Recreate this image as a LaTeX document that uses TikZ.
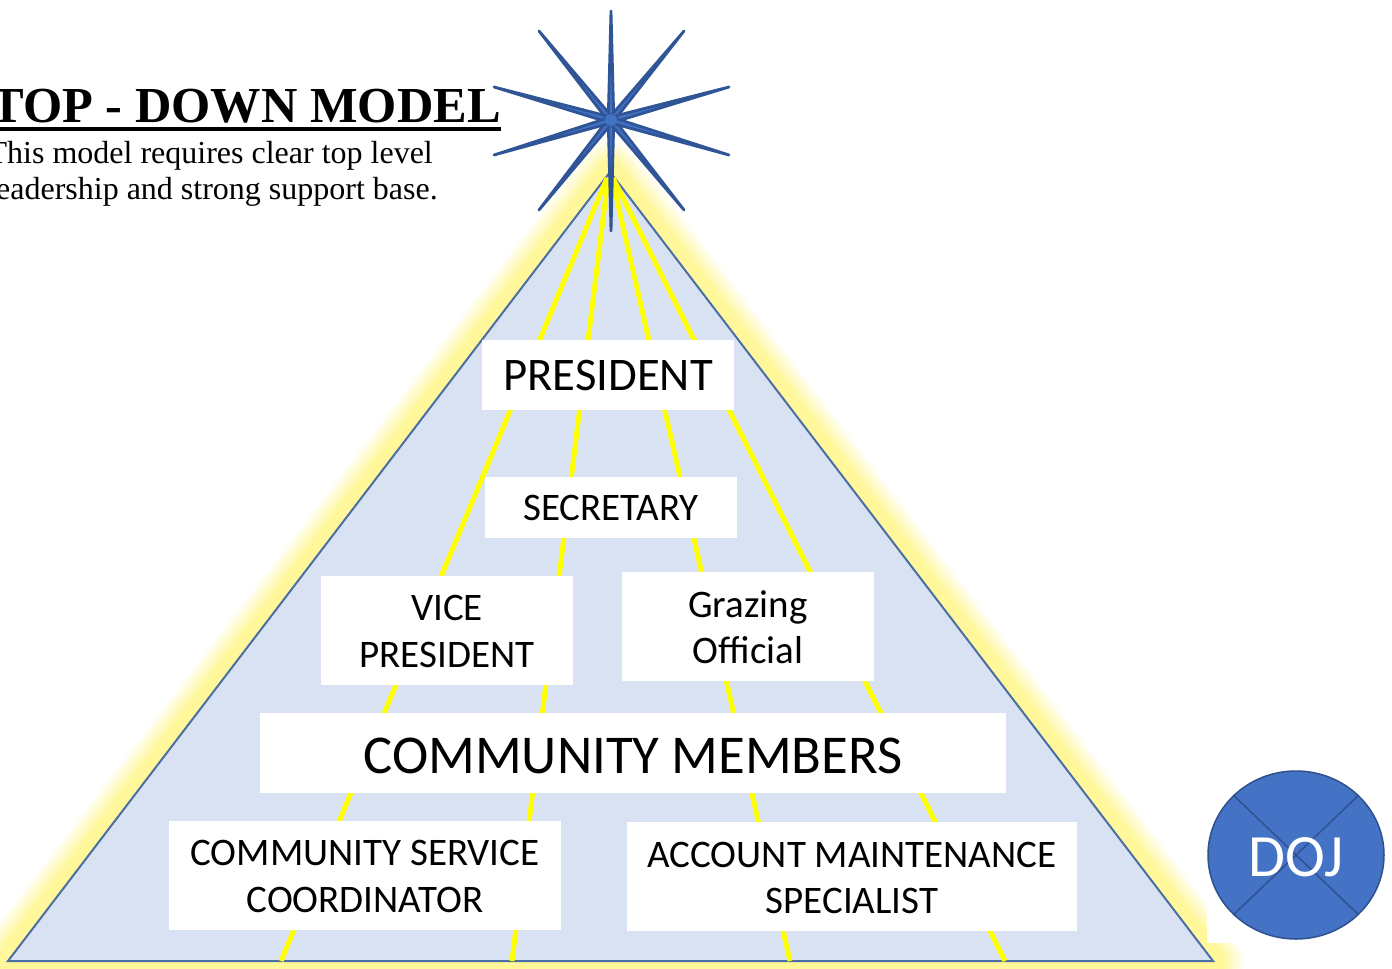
\documentclass[tikz,border=0pt]{standalone}
\usepackage{fontspec}
\setmainfont{Liberation Serif}
\newfontfamily\calib{Carlito}
\usetikzlibrary{shapes.geometric,calc}
\definecolor{triblue}{HTML}{D9E2F3}
\definecolor{edgeblue}{HTML}{4A6FA5}
\definecolor{starblue}{HTML}{2F5597}
\definecolor{dojblue}{HTML}{4472C4}
\definecolor{dojedge}{HTML}{2F528F}
\definecolor{glowy}{HTML}{FFF799}
\definecolor{rayyellow}{RGB}{255,255,0}
\newcommand{\dropby}[2]{\raisebox{-#1}[\height][\depth]{#2}}
\tikzset{
  card/.style={fill=white,inner sep=0pt,align=center},
  cardfont/.style={font=\calib\fontsize{#1}{46}\selectfont},
  ray/.style={rayyellow,line width=5pt},
  spike/.style={fill=dojblue,draw=starblue,line width=2.8pt,line join=round},
  serif/.style={inner sep=0pt,anchor=base east},
}
\begin{document}
\begin{tikzpicture}[x=1pt,y=-1pt]
\clip (0,0) rectangle (1392,969);
\fill[white] (0,0) rectangle (1392,969);
\coordinate (apex) at (610,172);
\coordinate (bl) at (8,961);
\coordinate (br) at (1213,961);
% glow
\foreach \d in {32,31,...,11}{
  \pgfmathsetmacro{\p}{100*(32-\d)/21}
  \draw[glowy!\p!white,line width=2*\d pt,line join=round] (apex) -- (bl) -- (br) -- cycle;
}
\draw[glowy,line width=22pt,line join=round] (apex) -- (bl) -- (br) -- cycle;
\fill[white] (1207,0) rectangle (1392,943);
\fill[glowy] (1207,961) rectangle (1213,943);
% triangle
\draw[fill=triblue,draw=edgeblue,line width=2pt,line join=miter] (apex) -- (bl) -- (br) -- cycle;
% rays
\coordinate (f1) at (281,961);
\coordinate (f2) at (512,961);
\coordinate (f3) at (790,961);
\coordinate (f4) at (1005,961);
\coordinate (a1) at (607,178);
\coordinate (a2) at (608,178);
\coordinate (a3) at (612,178);
\coordinate (a4) at (613,178);
\draw[ray] (a1) -- (f1);
\draw[ray] (a2) -- (f2);
\draw[ray] (a3) -- (f3);
\draw[ray] (a4) -- (f4);
% cards
\node[card,cardfont=46.7,minimum width=252pt,minimum height=70pt] (pres) at (608,375) {\dropby{1pt}{PRESIDENT}};
\node[card,cardfont=39,minimum width=252pt,minimum height=61pt] (sec) at (611,507.5) {SECRETARY};
\node[card,cardfont=39,minimum width=252pt,minimum height=109pt] (vp) at (447,630.5) {VICE\\\dropby{1pt}{PRESIDENT}};
\node[card,cardfont=39,minimum width=252pt,minimum height=109pt] (graz) at (748,626.5) {\dropby{1pt}{Grazing}\\\dropby{1pt}{Official}};
\node[card,cardfont=54.7,minimum width=746pt,minimum height=80pt] (comm) at (633,753) {\dropby{3pt}{COMMUNITY MEMBERS}};
\node[card,cardfont=39,minimum width=392pt,minimum height=109pt] (csc) at (365,875.5) {COMMUNITY SERVICE\\\dropby{1pt}{COORDINATOR}};
\node[card,cardfont=39,minimum width=450pt,minimum height=109pt] (ams) at (852,876.5) {\dropby{1pt}{ACCOUNT MAINTENANCE}\\\dropby{1pt}{SPECIALIST}};
% star
\coordinate (sc) at (611,120);
\foreach \tx/\ty/\bx/\by in {
  611/11/2.8/0, 611/231/2.8/0,
  539/31/2.2/-1.8, 684/31/2.2/1.8,
  539/210/2.2/1.8, 684/210/2.2/-1.8,
  494/87/0.8/-2.8, 729/87/0.8/2.8,
  494/155/0.8/2.8, 729/155/0.8/-2.8}{
  \path[spike] (\tx,\ty) -- ($(sc)+(\bx,\by)$) -- ($(sc)-(\bx,\by)$) -- cycle;
}
\fill[dojblue] (sc) circle (6pt);
% text
\node[serif] (title) at (501,122) {\fontsize{50.4}{60}\selectfont\bfseries TOP - DOWN MODEL};
\draw[line width=4.6pt,black] ([yshift=-7pt]title.base west) -- ([yshift=-7pt]title.base east);
\node[serif] (l1) at (433,163) {\fontsize{32}{36}\selectfont This model requires clear top level};
\node[serif] (l2) at (438,199.5) {\fontsize{32}{36}\selectfont leadership and strong support base.};
% DOJ
\node[ellipse,draw=dojedge,fill=dojblue,line width=1.5pt,minimum width=176pt,minimum height=168pt,inner sep=0pt] (doj) at (1296,855) {};
\draw[dojedge,line width=1.5pt] (doj.north west) -- (doj.south east);
\draw[dojedge,line width=1.5pt] (doj.north east) -- (doj.south west);
\node[inner sep=0pt,font=\calib,text=white] (dojt) at (1296,857) {\fontsize{60}{60}\selectfont DOJ};
\end{tikzpicture}
\end{document}
